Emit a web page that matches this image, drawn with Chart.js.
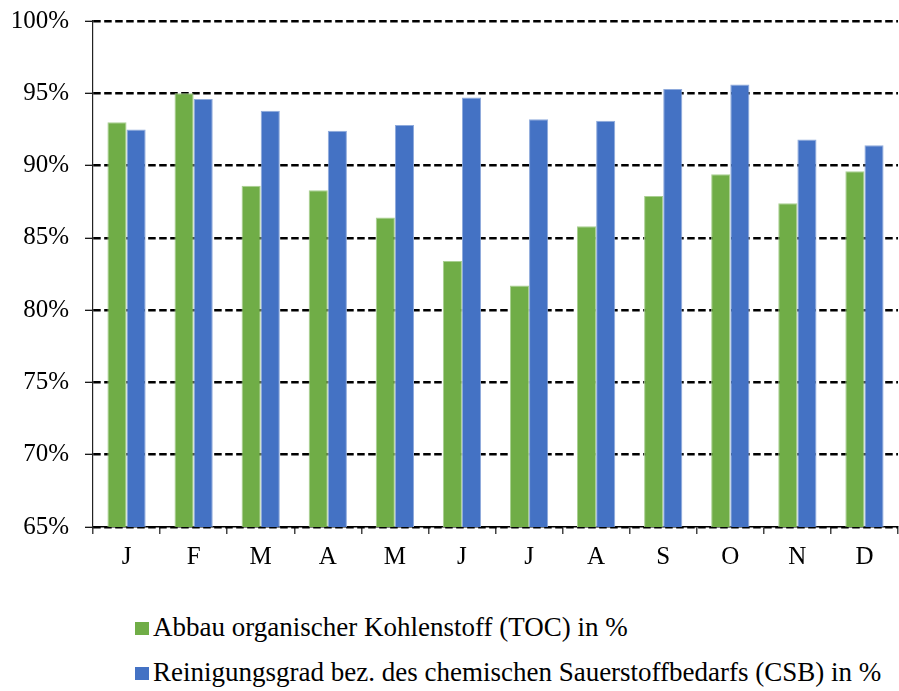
<!DOCTYPE html>
<html>
<head>
  <title>TOC / CSB Reinigungsgrad</title>
  <script src="https://cdn.jsdelivr.net/npm/chart.js"></script>
  <style>
    body { margin: 0; background: #fff; font-family: 'Liberation Serif', 'Times New Roman', serif; }
    #wrap { position: relative; width: 899px; height: 691px; }
    #chartBox { position: absolute; left: 0; top: 0; width: 899px; height: 600px; }
    .legend { position: absolute; left: 135px; top: 605px; }
    .legend-item { height: 45px; line-height: 45px; font-size: 27px; color: #000; white-space: nowrap; }
    .legend-box { display: inline-block; width: 14px; height: 13px; margin-right: 4px; vertical-align: baseline; position: relative; top: -1px; }
  </style>
</head>
<body>
  <div id="wrap">
    <div id="chartBox"><canvas id="chart"></canvas></div>
    <div class="legend" id="legend"></div>
  </div>

  <script>
    const months = ['J', 'F', 'M', 'A', 'M', 'J', 'J', 'A', 'S', 'O', 'N', 'D'];
    const tocValues = [93.0, 95.0, 88.6, 88.3, 86.4, 83.4, 81.7, 85.8, 87.9, 89.4, 87.4, 89.6];
    const csbValues = [92.5, 94.6, 93.8, 92.4, 92.8, 94.7, 93.2, 93.1, 95.3, 95.6, 91.8, 91.4];
    const seriesLabels = [
      'Abbau organischer Kohlenstoff (TOC) in %',
      'Reinigungsgrad bez. des chemischen Sauerstoffbedarfs (CSB) in %'
    ];
    const seriesColors = ['#70AD47', '#4472C4'];

    const font = { family: "'Liberation Serif', 'Times New Roman', serif", size: 25 };

    const chart = new Chart(document.getElementById('chart'), {
      type: 'bar',
      data: {
        labels: months,
        datasets: [
          { label: seriesLabels[0], data: tocValues, backgroundColor: seriesColors[0], borderColor: '#a9cf91', borderWidth: 1 },
          { label: seriesLabels[1], data: csbValues, backgroundColor: seriesColors[1], borderColor: '#8eaadc', borderWidth: 1 }
        ]
      },
      options: {
        responsive: true,
        maintainAspectRatio: false,
        animation: false,
        layout: { padding: { left: 0, right: 1, top: 21, bottom: 0 } },
        datasets: { bar: { categoryPercentage: 0.57, barPercentage: 1.0 } },
        plugins: { legend: { display: false }, tooltip: { enabled: false } },
        scales: {
          x: {
            grid: { drawOnChartArea: false, tickLength: 7, color: '#444', lineWidth: 1.5 },
            border: { color: '#000', width: 1.5 },
            ticks: { color: '#000', font: font, padding: 8 },
            afterFit: (s) => { s.height = 73; s.paddingLeft = 0; s.paddingRight = 0; }
          },
          y: {
            min: 65,
            max: 100,
            ticks: { stepSize: 5, color: '#000', font: font, padding: 16, callback: v => v + '%' },
            grid: { color: '#000', lineWidth: 2.6, tickBorderDash: [], tickLength: 8, tickWidth: 1.2 },
            border: { color: '#222', width: 1.2, dash: [7.5, 3.5] },
            afterFit: (s) => { s.width = 93; s.paddingTop = 0; s.paddingBottom = 0; }
          }
        }
      }
    });

    const legend = document.getElementById('legend');
    seriesLabels.forEach((label, i) => {
      const item = document.createElement('div');
      item.className = 'legend-item';
      item.innerHTML = `<span class="legend-box" style="background:${seriesColors[i]}"></span>${label}`;
      legend.appendChild(item);
    });
  </script>
</body>
</html>
